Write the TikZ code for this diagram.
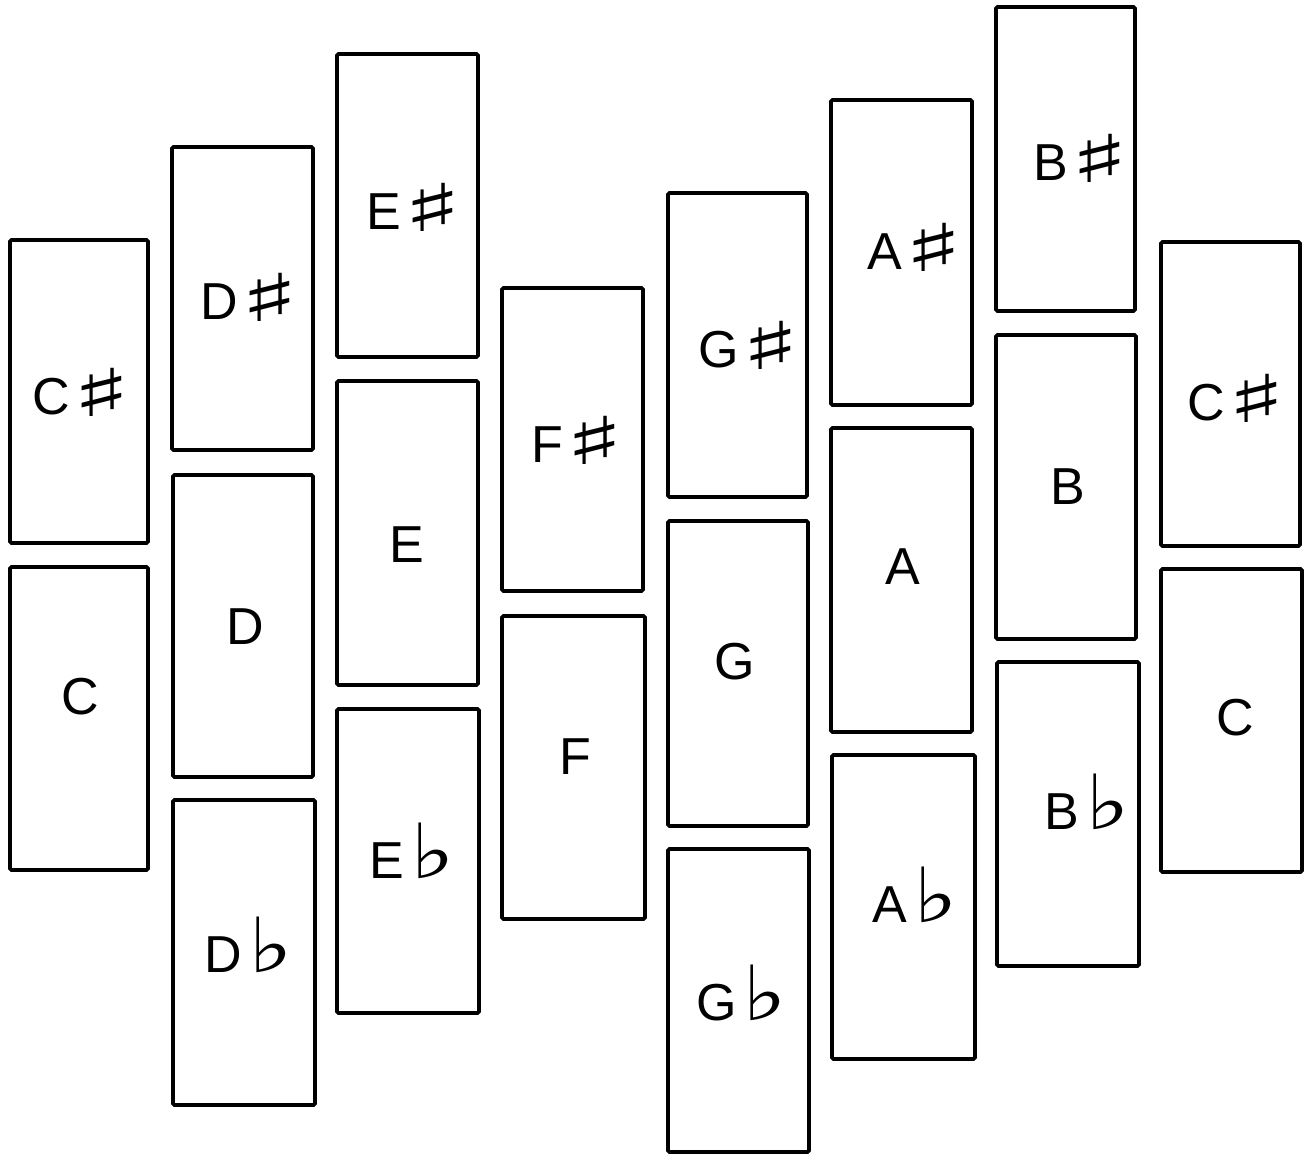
\documentclass[tikz,border=0pt]{standalone}
\usepackage{fontspec}
\setmainfont{Liberation Sans}
\newfontfamily\symfont{DejaVu Sans}
\newcommand{\shp}{\hspace{0.03em}\raisebox{-0.04em}{\scalebox{1.9}[1.0]{\symfont\fontsize{66pt}{68pt}\selectfont ♯}}}
\newcommand{\flt}{\hspace{0.12em}\scalebox{1.25}[1.0]{\symfont\fontsize{76pt}{78pt}\selectfont ♭}}
\begin{document}
\begin{tikzpicture}[x=1pt,y=-1pt,
  keybox/.style={draw, line width=3.6pt, rounded corners=1.5pt},
  keylbl/.style={font=\fontsize{52pt}{54pt}\selectfont, inner sep=0pt, anchor=center}]
\useasboundingbox (0,0) rectangle (1314,1154);
\newcommand{\kb}[5]{\draw[keybox] (#2,#3) rectangle (#4,#5) coordinate (#1);}
\kb{bCsa}{10}{240}{148}{543}
\kb{bCa}{10}{567}{148}{870}
\kb{bDs}{172}{147}{313}{450}
\kb{bD}{173}{475}{313}{777}
\kb{bDb}{173}{800}{315}{1105}
\kb{bEs}{337}{54}{478}{357}
\kb{bE}{337}{381}{478}{685}
\kb{bEb}{337}{709}{479}{1013}
\kb{bFs}{502}{288}{643}{591}
\kb{bF}{502}{616}{645}{919}
\kb{bGs}{668}{193}{807}{497}
\kb{bG}{668}{521}{808}{826}
\kb{bGb}{668}{849}{809}{1152}
\kb{bAs}{831}{100}{972}{405}
\kb{bA}{831}{428}{972}{732}
\kb{bAb}{832}{755}{975}{1059}
\kb{bBs}{996}{7}{1135}{311}
\kb{bB}{996}{335}{1136}{639}
\kb{bBb}{997}{662}{1139}{966}
\kb{bCsb}{1161}{242}{1300}{546}
\kb{bCb}{1161}{569}{1302}{872}
\node[keylbl] (lCsa) at (82,392) {C\shp};
\node[keylbl] (lCa) at (80,697) {C};
\node[keylbl] (lDs) at (250,297) {D\shp};
\node[keylbl] (lD) at (245,627) {D};
\node[keylbl] (lDb) at (249,945) {D\flt};
\node[keylbl] (lEs) at (415,207) {E\shp};
\node[keylbl] (lE) at (407,545) {E};
\node[keylbl] (lEb) at (412,851) {E\flt};
\node[keylbl] (lFs) at (578,440) {F\shp};
\node[keylbl] (lF) at (575,757) {F};
\node[keylbl] (lGs) at (750,345) {G\shp};
\node[keylbl] (lG) at (735,662) {G};
\node[keylbl] (lGb) at (742,993) {G\flt};
\node[keylbl] (lAs) at (916,247) {A\shp};
\node[keylbl] (lA) at (903,567) {A};
\node[keylbl] (lAb) at (915,895) {A\flt};
\node[keylbl] (lBs) at (1082,158) {B\shp};
\node[keylbl] (lB) at (1068,487) {B};
\node[keylbl] (lBb) at (1087,802) {B\flt};
\node[keylbl] (lCsb) at (1237,398) {C\shp};
\node[keylbl] (lCb) at (1235,718) {C};
\end{tikzpicture}
\end{document}
